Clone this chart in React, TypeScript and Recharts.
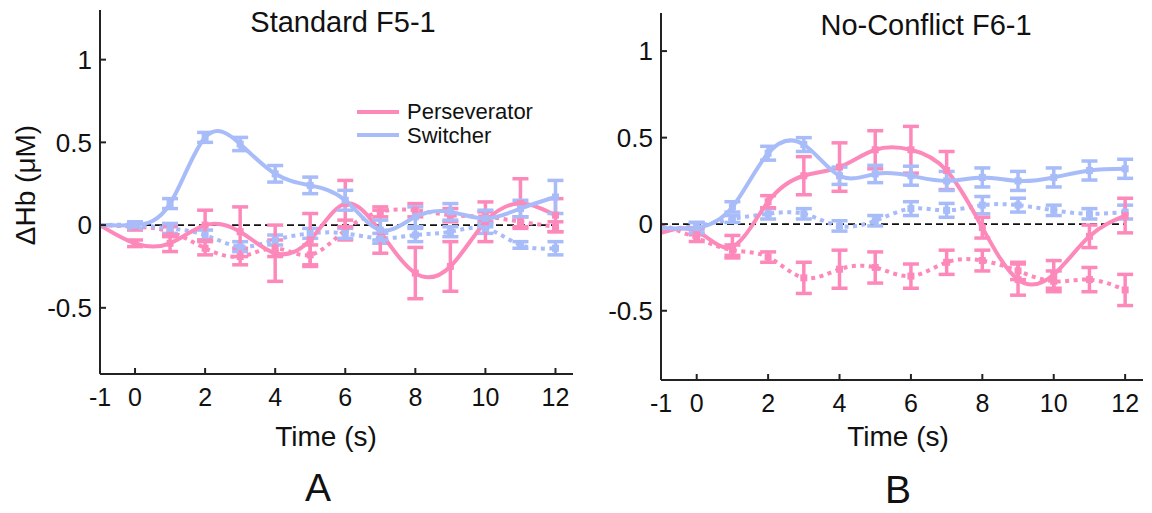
import React from "react";
import { LineChart, Line, XAxis, YAxis, ErrorBar, ReferenceLine } from "recharts";

const PINK = "#fd89bb";
const BLUE = "#a7bcf8";
const FONT = "'Liberation Sans', Arial, sans-serif";

const time = [-1, 0, 1, 2, 3, 4, 5, 6, 7, 8, 9, 10, 11, 12];
const xTicks = [-1, 0, 2, 4, 6, 8, 10, 12];
const yTicks = [-0.5, 0, 0.5, 1];

// panel A: Standard F5-1
const perSolidA = [0, -0.11, -0.11, 0.0, -0.04, -0.17, -0.09, 0.13, -0.04, -0.29, -0.25, 0.02, 0.13, 0.06];
const perSolidErrA = [null, 0.02, 0.05, 0.09, 0.15, 0.17, 0.16, 0.14, 0.13, 0.155, 0.15, 0.12, 0.15, 0.1];
const perDotA = [0, -0.01, -0.04, -0.14, -0.19, -0.14, -0.18, -0.03, 0.08, 0.09, 0.06, 0.05, 0.02, -0.01];
const perDotErrA = [null, 0.02, 0.03, 0.04, 0.05, 0.05, 0.06, 0.06, 0.03, 0.04, 0.04, 0.03, 0.03, 0.03];
const swSolidA = [0, 0.0, 0.13, 0.53, 0.49, 0.31, 0.24, 0.15, -0.03, 0.05, 0.08, 0.04, 0.1, 0.17];
const swSolidErrA = [null, 0.02, 0.03, 0.03, 0.04, 0.05, 0.05, 0.06, 0.06, 0.06, 0.05, 0.05, 0.05, 0.1];
const swDotA = [0, 0.0, -0.02, -0.06, -0.13, -0.09, -0.05, -0.05, -0.08, -0.06, -0.04, -0.02, -0.12, -0.14];
const swDotErrA = [null, 0.02, 0.03, 0.03, 0.03, 0.03, 0.03, 0.03, 0.03, 0.04, 0.03, 0.03, 0.02, 0.04];

// panel B: No-Conflict F6-1
const perSolidB = [-0.05, -0.04, -0.13, 0.13, 0.28, 0.33, 0.43, 0.43, 0.31, -0.02, -0.32, -0.29, -0.07, 0.05];
const perSolidErrB = [null, 0.02, 0.065, 0.035, 0.11, 0.14, 0.11, 0.135, 0.11, 0.06, 0.09, 0.08, 0.065, 0.1];
const perDotB = [0, -0.08, -0.15, -0.19, -0.31, -0.26, -0.25, -0.3, -0.22, -0.21, -0.27, -0.33, -0.32, -0.38];
const perDotErrB = [null, 0.02, 0.03, 0.03, 0.09, 0.11, 0.09, 0.07, 0.07, 0.06, 0.05, 0.06, 0.07, 0.09];
const swSolidB = [-0.02, -0.02, 0.1, 0.41, 0.46, 0.28, 0.29, 0.28, 0.25, 0.27, 0.25, 0.27, 0.31, 0.32];
const swSolidErrB = [null, 0.03, 0.03, 0.04, 0.04, 0.05, 0.05, 0.055, 0.055, 0.055, 0.055, 0.055, 0.055, 0.055];
const swDotB = [-0.03, -0.01, 0.03, 0.06, 0.06, -0.01, 0.02, 0.09, 0.08, 0.11, 0.11, 0.08, 0.06, 0.07];
const swDotErrB = [null, 0.02, 0.02, 0.03, 0.03, 0.03, 0.03, 0.04, 0.04, 0.05, 0.04, 0.03, 0.03, 0.04];

const rowsA = time.map((t, i) => ({
  t,
  perS: perSolidA[i], perSE: perSolidErrA[i],
  perD: perDotA[i], perDE: perDotErrA[i],
  swS: swSolidA[i], swSE: swSolidErrA[i],
  swD: swDotA[i], swDE: swDotErrA[i],
}));

const rowsB = time.map((t, i) => ({
  t,
  perS: perSolidB[i], perSE: perSolidErrB[i],
  perD: perDotB[i], perDE: perDotErrB[i],
  swS: swSolidB[i], swSE: swSolidErrB[i],
  swD: swDotB[i], swDE: swDotErrB[i],
}));

const squareDot = (color: string) => (p: any) => {
  if (p.payload == null || p.payload.t === -1) return <g key={p.key ?? p.index} />;
  return <rect key={p.key ?? p.index} x={p.cx - 3.5} y={p.cy - 3.5} width={7} height={7} fill={color} />;
};

const series = [
  { key: "perD", err: "perDE", color: PINK, dashed: true },
  { key: "swD", err: "swDE", color: BLUE, dashed: true },
  { key: "perS", err: "perSE", color: PINK, dashed: false },
  { key: "swS", err: "swSE", color: BLUE, dashed: false },
];

function Panel({ rows, domain, width, height, top }: any) {
  return (
    <LineChart width={width} height={height} data={rows} margin={{ top, right: 7, left: 0, bottom: 0 }}>
      <XAxis
        dataKey="t"
        type="number"
        domain={[-1, 12.5]}
        ticks={xTicks}
        height={40}
        axisLine={{ stroke: "#222", strokeWidth: 2 }}
        tickLine={{ stroke: "#222", strokeWidth: 2 }}
        tickSize={-6}
        tickMargin={20}
        tick={{ fill: "#111", fontSize: 25, fontFamily: FONT }}
        allowDataOverflow
      />
      <YAxis
        type="number"
        domain={domain}
        ticks={yTicks}
        width={100}
        axisLine={{ stroke: "#222", strokeWidth: 2 }}
        tickLine={{ stroke: "#222", strokeWidth: 2 }}
        tickSize={-6}
        tickMargin={14}
        tick={{ fill: "#111", fontSize: 26, fontFamily: FONT }}
        allowDataOverflow
      />
      <ReferenceLine
        segment={[{ x: -1, y: 0 }, { x: 12, y: 0 }]}
        stroke="#111"
        strokeWidth={1.8}
        strokeDasharray="7 4"
      />
      {series.map((s) => (
        <Line
          key={s.key}
          dataKey={s.key}
          type="natural"
          stroke={s.color}
          strokeWidth={4}
          strokeDasharray={s.dashed ? "4 4.5" : undefined}
          dot={squareDot(s.color)}
          activeDot={false}
          isAnimationActive={false}
        >
          <ErrorBar dataKey={s.err} width={8} strokeWidth={3.5} stroke={s.color} direction="y" />
        </Line>
      ))}
    </LineChart>
  );
}

const txt = { fontFamily: FONT, fill: "#111" };

export default function App() {
  return (
    <div style={{ position: "absolute", left: 0, top: 0, width: 1152, height: 513, background: "#fff" }}>
      <div style={{ position: "absolute", left: 0, top: 0 }}>
        <Panel rows={rowsA} domain={[-0.9, 1.3]} width={580} height={414} top={10} />
      </div>
      <div style={{ position: "absolute", left: 561, top: 0 }}>
        <Panel rows={rowsB} domain={[-0.9, 1.22]} width={589} height={420} top={13} />
      </div>
      <svg width={1152} height={513} style={{ position: "absolute", left: 0, top: 0, pointerEvents: "none" }}>
        <text x={343} y={32} textAnchor="middle" fontSize={29} style={txt}>Standard F5-1</text>
        <text x={926} y={35} textAnchor="middle" fontSize={29} style={txt}>No-Conflict F6-1</text>
        <text transform="translate(35,185) rotate(-90)" textAnchor="middle" fontSize={28} style={txt}>ΔHb (μM)</text>
        <text x={326} y={446} textAnchor="middle" fontSize={28} style={txt}>Time (s)</text>
        <text x={898} y={446} textAnchor="middle" fontSize={28} style={txt}>Time (s)</text>
        <text x={318} y={501} textAnchor="middle" fontSize={39} style={txt}>A</text>
        <text x={898} y={503} textAnchor="middle" fontSize={39} style={txt}>B</text>
        <line x1={357} y1={112} x2={399} y2={112} stroke={PINK} strokeWidth={4} />
        <text x={407} y={119} fontSize={22} style={txt}>Perseverator</text>
        <line x1={357} y1={135} x2={399} y2={135} stroke={BLUE} strokeWidth={4} />
        <text x={407} y={143} fontSize={22} style={txt}>Switcher</text>
      </svg>
    </div>
  );
}
